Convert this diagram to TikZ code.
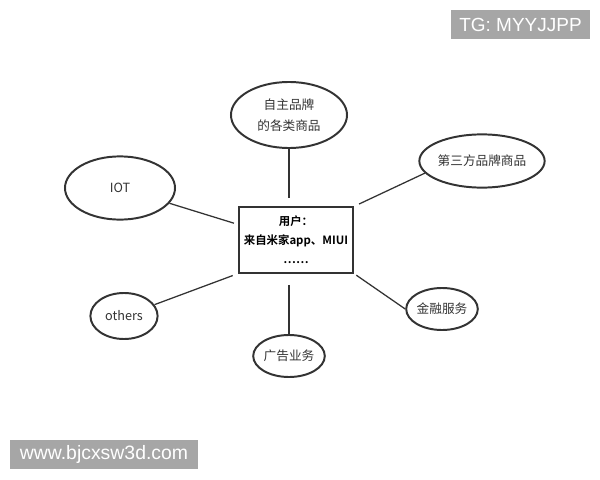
\documentclass[tikz,border=0pt]{standalone}
\usepackage{fontspec}
\setmainfont{Liberation Sans}
\newfontfamily\cjk{Noto Sans CJK SC}[BoldFont={Noto Sans CJK SC Bold}]
\usepackage{xcolor}
\usetikzlibrary{shapes.geometric, positioning}

\definecolor{linegray}{HTML}{333333}
\definecolor{markgray}{HTML}{A6A6A6}

\tikzset{
  bubble/.style={ellipse, draw=linegray, line width=1.4pt, inner sep=0pt, align=center, font=\cjk\fontsize{9}{15}\selectfont, text=linegray},
  link/.style={draw=linegray, line width=0.9pt},
  stamp/.style={fill=markgray, text=white, inner sep=0pt}
}

\begin{document}
\begin{tikzpicture}[x=0.025cm, y=-0.025cm]
      \useasboundingbox (0,0) rectangle (600,480);

      % USERS
      \node[draw=linegray, line width=1.4pt, minimum width=2.85cm, minimum height=1.63cm, inner sep=0pt, align=center, font=\cjk\bfseries\fontsize{8.1}{13.5}\selectfont] (users) at (296, 240) {用户：\\来自米家app、MIUI\\……};

      % own brands
      \node[bubble, minimum width=2.9cm, minimum height=1.65cm] (own) at (289, 115) {自主品牌\\的各类商品};
      \draw[link, shorten >=6pt] (own.south) -- (own.south |- users.north);

      % third party
      \node[bubble, minimum width=3.1cm, minimum height=1.33cm] (third) at (482, 161) {第三方品牌商品};
      \draw[link, shorten >=4pt] (third.192) -- (users.north east);

      % IOT
      \node[bubble, minimum width=2.75cm, minimum height=1.58cm] (iot) at (120, 188) {IOT};
      \draw[link, shorten >=3pt] (iot) -- (users.165);

      % others
      \node[bubble, minimum width=1.68cm, minimum height=1.15cm] (others) at (124, 316) {others};
      \draw[link, shorten >=4pt] (others) -- (users.south west);

      % ads
      \node[bubble, minimum width=1.7cm, minimum height=1.05cm] (ads) at (289, 356) {广告业务};
      \draw[link, shorten <=8pt] (ads.north |- users.south) -- (ads.north);

      % finance
      \node[bubble, minimum width=1.5cm, minimum height=1.05cm] (finance) at (442, 309) {金融服务};
      \draw[link, shorten <=2pt] (users.south east) -- (finance.west);

      % watermarks
      \node[stamp, minimum width=3.48cm, minimum height=0.73cm, font=\fontsize{13.5}{15}\selectfont] (tg) at (520.5, 24.5) {TG: MYYJJPP};
      \node[stamp, minimum width=4.7cm, minimum height=0.73cm, font=\fontsize{13.8}{15}\selectfont] (web) at (104, 454.5) {www.bjcxsw3d.com\hspace{0.3cm}};
    \end{tikzpicture}
\end{document}
